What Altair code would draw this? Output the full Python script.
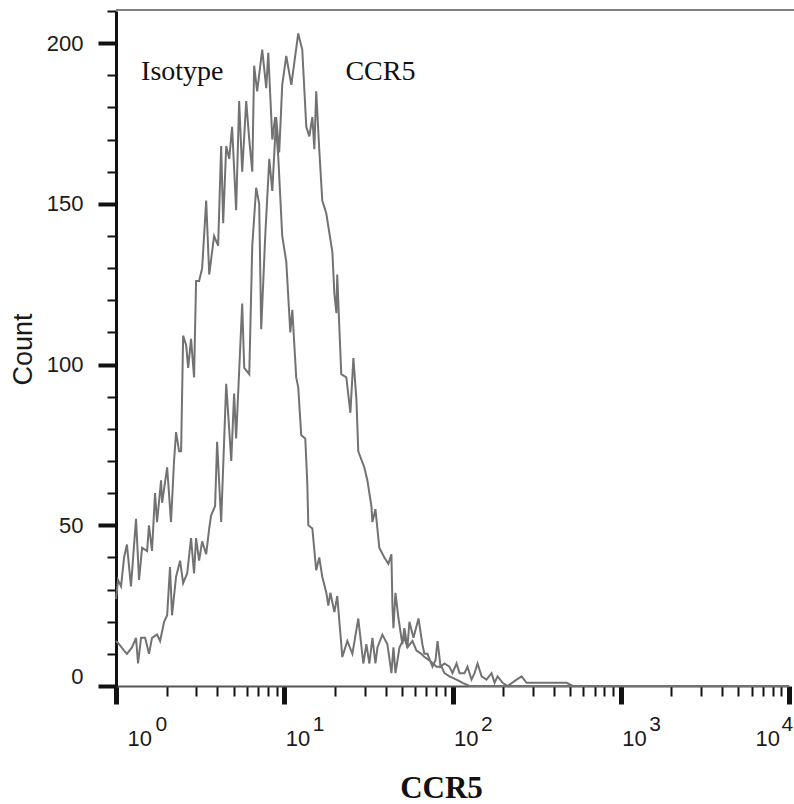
import altair as alt
import pandas as pd

# ---- data (x as log10 of intensity, y as count) ----
iso_log = [0.000, 0.012, 0.030, 0.048, 0.065, 0.089, 0.119, 0.137, 0.155, 0.185,
           0.196, 0.214, 0.232, 0.244, 0.268, 0.274, 0.304, 0.327, 0.345, 0.357,
           0.375, 0.387, 0.399, 0.417, 0.429, 0.446, 0.464, 0.476, 0.494, 0.512,
           0.536, 0.554, 0.583, 0.607, 0.625, 0.637, 0.655, 0.673, 0.690, 0.714,
           0.732, 0.750, 0.774, 0.792, 0.810, 0.821, 0.839, 0.869, 0.893, 0.905,
           0.929, 0.946, 0.964, 0.988, 1.012, 1.036, 1.048, 1.071, 1.083, 1.101,
           1.125, 1.137, 1.143, 1.167, 1.190, 1.208, 1.226, 1.250, 1.262, 1.274,
           1.298, 1.315, 1.339, 1.345, 1.375, 1.405, 1.440, 1.470, 1.488, 1.506,
           1.524, 1.542, 1.554, 1.583, 1.613, 1.637, 1.649, 1.661, 1.685, 1.714,
           1.732, 1.762, 1.786, 1.815, 1.833, 1.863, 1.905, 1.935, 1.952, 1.982,
           2.024, 2.060, 2.101, 4.000]
iso_count = [27, 33, 31, 40, 44, 31, 52, 33, 43, 42,
             50, 42, 60, 51, 64, 57, 68, 51, 70, 79,
             73, 73, 109, 106, 99, 108, 96, 126, 126, 130,
             151, 128, 140, 137, 168, 144, 168, 164, 174, 148,
             182, 160, 182, 170, 160, 193, 185, 198, 186, 197,
             170, 177, 165, 140, 132, 110, 117, 96, 93, 78,
             77, 63, 50, 49, 36, 40, 34, 29, 25, 29,
             23, 28, 13, 9, 14, 10, 21, 7, 13, 7,
             15, 7, 12, 16, 13, 4, 12, 4, 12, 15,
             12, 14, 11, 10, 9, 8, 6, 6, 4, 3,
             2, 1, 0, 0]

ccr_log = [0.000, 0.018, 0.048, 0.065, 0.095, 0.119, 0.131, 0.149, 0.173, 0.196,
           0.214, 0.244, 0.262, 0.286, 0.304, 0.321, 0.333, 0.357, 0.381, 0.399,
           0.423, 0.446, 0.464, 0.476, 0.494, 0.512, 0.536, 0.554, 0.565, 0.589,
           0.601, 0.625, 0.655, 0.685, 0.702, 0.714, 0.750, 0.762, 0.792, 0.810,
           0.833, 0.851, 0.863, 0.887, 0.911, 0.929, 0.952, 0.970, 0.988, 1.012,
           1.042, 1.060, 1.083, 1.107, 1.131, 1.149, 1.167, 1.179, 1.190, 1.208,
           1.226, 1.250, 1.286, 1.298, 1.310, 1.315, 1.327, 1.339, 1.369, 1.393,
           1.411, 1.429, 1.440, 1.476, 1.494, 1.518, 1.524, 1.542, 1.565, 1.595,
           1.619, 1.637, 1.643, 1.649, 1.661, 1.679, 1.702, 1.714, 1.732, 1.744,
           1.768, 1.798, 1.821, 1.833, 1.851, 1.881, 1.899, 1.911, 1.929, 1.952,
           1.982, 2.000, 2.024, 2.042, 2.071, 2.089, 2.113, 2.131, 2.149, 2.173,
           2.202, 2.232, 2.250, 2.268, 2.298, 2.327, 2.381, 2.411, 2.440, 2.476,
           2.536, 2.595, 2.679, 2.714, 4.000]
ccr_count = [14, 13, 11, 10, 12, 15, 7, 15, 15, 10,
             15, 16, 14, 20, 22, 37, 22, 34, 39, 32,
             35, 46, 35, 46, 39, 45, 41, 49, 53, 56,
             76, 51, 94, 70, 91, 77, 119, 99, 97, 137,
             155, 150, 111, 140, 164, 154, 177, 166, 187, 196,
             187, 194, 203, 198, 174, 171, 177, 167, 185, 167,
             151, 147, 135, 122, 116, 128, 112, 97, 96, 85,
             102, 89, 73, 68, 64, 56, 51, 55, 43, 40,
             38, 41, 25, 18, 29, 21, 13, 18, 12, 20,
             15, 21, 13, 10, 10, 6, 8, 14, 6, 7,
             6, 4, 7, 4, 4, 6, 2, 4, 7, 3,
             2, 4, 1, 3, 1, 0, 2, 3, 1, 1,
             1, 1, 1, 0, 0]

series_names = ["Isotype", "CCR5"]

# tick values / labels
y_ticks = list(range(0, 211, 10))
decades = [1, 10, 100, 1000, 10000]
exponents = ["0", "1", "2", "3", "4"]
x_ticks = [m * d for d in decades[:-1] for m in range(1, 10)] + [decades[-1]]

# in-plot annotations
ann_text = ["Isotype", "CCR5"]
ann_x = [1.41, 23.1]
ann_y = [188.5, 188.5]

# ---- build tables ----
frames = []
for name, lx, cnt in [(series_names[0], iso_log, iso_count), (series_names[1], ccr_log, ccr_count)]:
    frames.append(pd.DataFrame({"x": [10 ** v for v in lx], "count": cnt, "series": name}))
df = pd.concat(frames, ignore_index=True)
ann_df = pd.DataFrame({"x": ann_x, "count": ann_y, "label": ann_text})
dec_df = pd.DataFrame({"x": decades, "count": [0] * len(decades)})

W, H = 673, 675
LABEL_FONT = "Liberation Sans"

dec_test = "indexof(" + str(decades) + ", datum.value) >= 0"
exp_expr = " : ".join(f"datum.value == {d} ? '{e}'" for d, e in zip(decades, exponents)) + " : ''"

x_scale = alt.Scale(type="log", domain=[1, 10000], nice=False)
y_scale = alt.Scale(domain=[0, 210], nice=False, zero=True)

x_axis = alt.Axis(
    orient="bottom",
    values=x_ticks,
    labelExpr=f"{dec_test} ? '10' : ''",
    labelAlign="left",
    labelBaseline="top",
    labelFont=LABEL_FONT,
    labelFontSize=22,
    labelColor="#1a1a1a",
    labelPadding=24,
    labelOverlap=False,
    labelFlush=False,
    labelOffset={"condition": [{"test": "datum.value == 1", "value": 11},
                               {"test": "datum.value == 10000", "value": -34}],
                 "value": 1},
    tickSize={"condition": {"test": dec_test, "value": 18}, "value": 10},
    tickWidth={"condition": {"test": dec_test, "value": 5}, "value": 2},
    tickColor="#111111",
    domainColor="#555555",
    domainWidth=2,
    grid=False,
    title="CCR5",
    titleFont="Liberation Serif",
    titleFontSize=31,
    titleFontWeight="bold",
    titleColor="#111111",
    titleX=325,
    titleY=111,
    titleAlign="center",
    titleBaseline="alphabetic",
)

# superscript exponents of the decade labels, as a second bottom axis on the same scale
exp_axis = alt.Axis(
    orient="bottom",
    values=decades,
    labelExpr=exp_expr,
    labelAlign="left",
    labelBaseline="top",
    labelFont=LABEL_FONT,
    labelFontSize=21,
    labelColor="#1a1a1a",
    labelPadding=27,
    labelOverlap=False,
    labelFlush=False,
    labelOffset={"condition": [{"test": "datum.value == 1", "value": 39},
                               {"test": "datum.value == 10000", "value": -8}],
                 "value": 28},
    ticks=False,
    tickSize=0,
    domain=False,
    grid=False,
    title=None,
)

y_axis = alt.Axis(
    values=y_ticks,
    labelExpr="datum.value % 50 == 0 ? datum.label : ''",
    labelFont=LABEL_FONT,
    labelFontSize=22,
    labelColor="#1a1a1a",
    labelPadding=15,
    labelOverlap=False,
    labelFlush=False,
    labelOffset={"condition": {"test": "datum.value == 0", "value": -10}, "value": 0},
    tickSize={"condition": {"test": "datum.value % 50 == 0", "value": 18}, "value": 9},
    tickWidth={"condition": {"test": "datum.value % 50 == 0", "value": 4}, "value": 2},
    tickColor="#111111",
    domainColor="#111111",
    domainWidth=3,
    grid=False,
    title="Count",
    titleFont=LABEL_FONT,
    titleFontSize=27,
    titleFontWeight="normal",
    titleColor="#1a1a1a",
    titleX=-93,
    titleY=338,
    titleAlign="center",
    titleBaseline="middle",
)

y_enc = alt.Y("count:Q", scale=y_scale, axis=y_axis)

lines = alt.Chart(df).mark_line(color="#727272", strokeWidth=2).encode(
    x=alt.X("x:Q", scale=x_scale, axis=x_axis), y=y_enc, detail="series:N", order="x:Q"
)

ann = alt.Chart(ann_df).mark_text(
    font="Liberation Serif", fontSize=28, color="#111111", align="left", baseline="alphabetic"
).encode(x=alt.X("x:Q", scale=x_scale, axis=None), y=y_enc, text="label:N")

exp_layer = alt.Chart(dec_df).mark_point(opacity=0).encode(
    x=alt.X("x:Q", scale=x_scale, axis=exp_axis), y=y_enc
)

border = alt.Chart(pd.DataFrame({"a": [0]})).mark_rule(color="#808080", strokeWidth=2).encode(
    x=alt.value(0), x2=alt.value(W + 5), y=alt.value(-1)
)

chart = alt.layer(lines, ann, exp_layer, border).resolve_axis(x="independent").properties(
    width=W,
    height=H,
    padding={"left": 116, "top": 11, "right": 5, "bottom": 118},
    autosize=alt.AutoSizeParams(type="none"),
    background="white",
).configure_view(strokeWidth=0)

chart.save("out.html", embed_options={"renderer": "svg", "actions": False})
